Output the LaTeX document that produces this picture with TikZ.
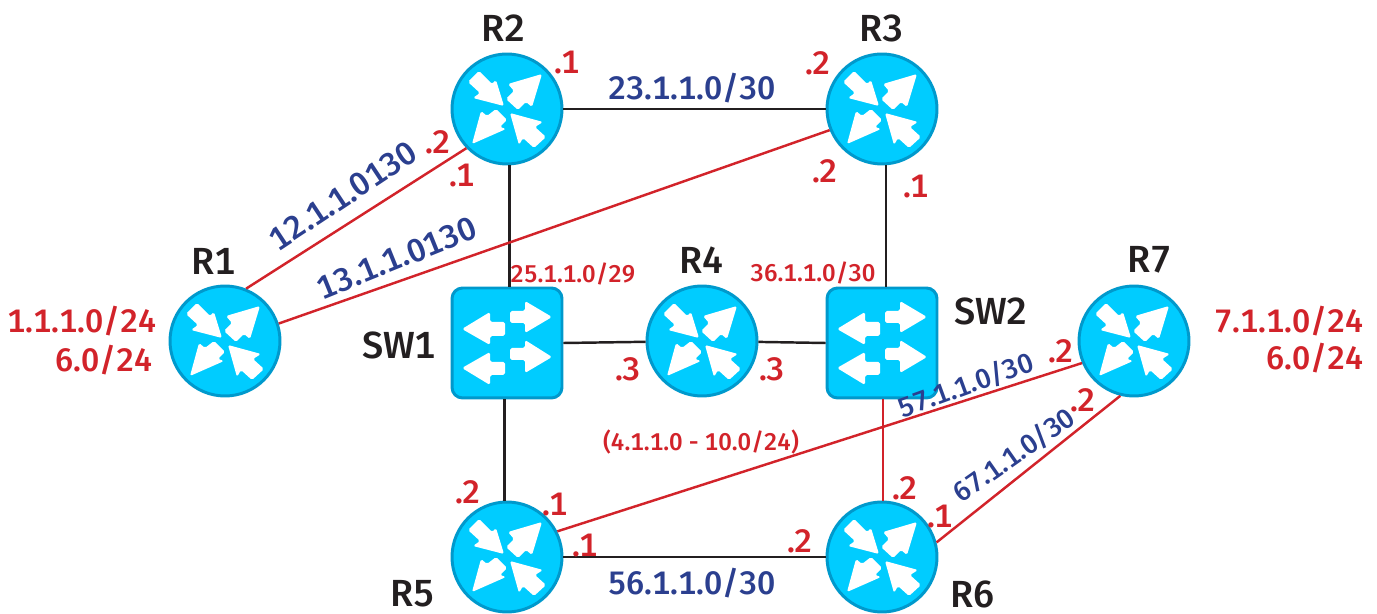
\documentclass[tikz,border=0pt]{standalone}
\usepackage{fontspec}
\setmainfont{Liberation Sans}
\newfontfamily\medfont[Numbers=Monospaced]{Fira Sans Medium}
\usepackage{xcolor}
\usetikzlibrary{shapes,positioning}
\definecolor{iconblue}{HTML}{00CCFF}
\definecolor{iconedge}{HTML}{0099CC}
\definecolor{netred}{HTML}{D2232A}
\definecolor{netblue}{HTML}{2B3F8F}
\definecolor{netblack}{HTML}{231F20}

\begin{document}
\begin{tikzpicture}
  [
    x=0.02cm, y=-0.02cm,
    Router/.style={circle, draw=iconedge, fill=iconblue, line width=1.7pt, inner sep=0pt, minimum size=2.2cm},
    Switch/.style={rectangle, rounded corners=6pt, draw=iconedge, fill=iconblue, line width=1.7pt, inner sep=0pt, minimum size=2.2cm},
    Arrow/.style={fill=white, rounded corners=1pt},
    Name/.style={inner sep=0pt, text=netblack, font=\medfont\fontsize{21.5}{22}\selectfont},
    Red/.style={inner sep=0pt, text=netred, font=\medfont\fontsize{18.5}{20}\selectfont},
    Small/.style={inner sep=0pt, text=netred, font=\medfont\fontsize{13.8}{15}\selectfont},
    Blue/.style={inner sep=0pt, text=netblue, font=\medfont\fontsize{18.5}{20}\selectfont},
    BlueSmall/.style={inner sep=0pt, text=netblue, font=\medfont\fontsize{15.6}{18}\selectfont},
    BlackLine/.style={draw=netblack, line width=1.4pt},
    RedLine/.style={draw=netred, line width=1.4pt},
    RouterIcon/.pic={
      \path[Arrow] (-3,-3) -- (-34,-11) -- (-27,-16) -- (-39,-27) -- (-28,-38) -- (-15,-25) -- (-11,-29) -- cycle;
      \path[Arrow] (35,-35) -- (1,-25) -- (7,-18) -- (-1,-10) -- (11,1) -- (19,-7) -- (25,-2) -- cycle;
      \path[Arrow] (-35,35) -- (-26,2) -- (-20,7) -- (-11,0) -- (0,11) -- (-7,18) -- (-1,20) -- cycle;
      \path[Arrow] (3,4) -- (36,13) -- (28,18) -- (39,28) -- (27,39) -- (16,29) -- (12,36) -- cycle;
    },
    SwitchIcon/.pic={
      \path[Arrow] (45,-26) -- (18,-42) -- (18,-32) -- (3,-32) -- (3,-20) -- (18,-20) -- (18,-10) -- cycle;
      \path[Arrow] (-45,-14) -- (-17,-31) -- (-17,-21) -- (-2,-21) -- (-2,-7) -- (-17,-7) -- (-17,2) -- cycle;
      \path[Arrow] (45,14) -- (18,-3) -- (18,5) -- (3,5) -- (3,17) -- (18,17) -- (18,30) -- cycle;
      \path[Arrow] (-45,25) -- (-17,9) -- (-17,19) -- (-2,19) -- (-2,32) -- (-17,32) -- (-17,42) -- cycle;
    }
  ]
  \useasboundingbox (0,0) rectangle (1377,614);

  % Nodes
  \node[Router] (r1) at (225,341) {};
  \node[Router] (r2) at (507,109) {};
  \node[Router] (r3) at (882,109) {};
  \node[Router] (r4) at (702,341) {};
  \node[Router] (r5) at (507,557) {};
  \node[Router] (r6) at (882,557) {};
  \node[Router] (r7) at (1134,341) {};
  \node[Switch] (sw1) at (507,343) {};
  \node[Switch] (sw2) at (882,343) {};

  % Icons
  \foreach \n in {r1,r2,r3,r4,r5,r6,r7} \pic at (\n) {RouterIcon};
  \foreach \n in {sw1,sw2} \pic at (\n) {SwitchIcon};

  % Lines
  \path [BlackLine] (r2) -- (r3);
  \path [BlackLine] ([xshift=1.5pt]r2.south) -- ([xshift=1.5pt]sw1.north);
  \path [BlackLine] ([xshift=2.2pt]r3.south) -- ([xshift=2.2pt]sw2.north);
  \path [BlackLine] (sw1.east) -- (r4);
  \path [BlackLine] (r4) -- (sw2.west);
  \path [BlackLine] ([xshift=-1.5pt]sw1.south) -- ([xshift=-1.5pt]r5.north);
  \path [BlackLine] (r5) -- (r6);
  \path [RedLine] (r1.68) -- (r2.224);
  \path [RedLine] (r1.18) -- (r3.202);
  \path [RedLine] (r5.27) -- (r7.203);
  \path [RedLine] (r6.15) -- (r7.256);
  \path [RedLine] ([xshift=0.6pt]sw2.south) -- ([xshift=0.6pt]r6.north);

  % Names
  \node[Name] (nr1) at (214,261) {R1};
  \node[Name] (nr2) at (504,28) {R2};
  \node[Name] (nr3) at (882,28) {R3};
  \node[Name] (nr4) at (702,260) {R4};
  \node[Name] (nr5) at (413,594) {R5};
  \node[Name] (nr6) at (973,594) {R6};
  \node[Name] (nr7) at (1150,260) {R7};
  \node[Name] (nsw1) at (399,345) {SW1};
  \node[Name] (nsw2) at (991,311) {SW2};

  % Subnets
  \node[Blue] (n23) at (692,88) {23.1.1.0/30};
  \node[Blue] (n56) at (692,583) {56.1.1.0/30};
  \node[Blue, rotate=33.5] (n12) at (343,196) {12.1.1.0130};
  \node[Blue, rotate=22] (n13) at (397,258) {13.1.1.0130};
  \node[BlueSmall, rotate=20] (n57) at (966,385) {57.1.1.0/30};
  \node[BlueSmall, rotate=35] (n67) at (1014,455) {67.1.1.0/30};
  \node[Small] (n25) at (573,274) {25.1.1.0/29};
  \node[Small] (n36) at (813,273) {36.1.1.0/30};
  \node[Small] (n4) at (701,442) {(4.1.1.0 - 10.0/24)};
  \node[Red, anchor=east] (lan1a) at (157,321) {1.1.1.0/24};
  \node[Red, anchor=east] (lan1b) at (153,360) {6.0/24};
  \node[Red, anchor=east] (lan7a) at (1364,321) {7.1.1.0/24};
  \node[Red, anchor=east] (lan7b) at (1364,358) {6.0/24};

  % Addresses
  \node[Red] (a1) at (567,63) {.1};
  \node[Red] (a2) at (818,63) {.2};
  \node[Red] (a3) at (438,142) {.2};
  \node[Red] (a4) at (462,176) {.1};
  \node[Red] (a5) at (825,171) {.2};
  \node[Red] (a6) at (916,187) {.1};
  \node[Red] (a7) at (628,369) {.3};
  \node[Red] (a8) at (772,369) {.3};
  \node[Red] (a9) at (1061,351) {.2};
  \node[Red] (a10) at (1083,400) {.2};
  \node[Red] (a11) at (905,488) {.2};
  \node[Red] (a12) at (940,517) {.1};
  \node[Red] (a13) at (468,492) {.2};
  \node[Red] (a14) at (555,505) {.1};
  \node[Red] (a15) at (585,546) {.1};
  \node[Red] (a16) at (800,541) {.2};

\end{tikzpicture}
\end{document}
